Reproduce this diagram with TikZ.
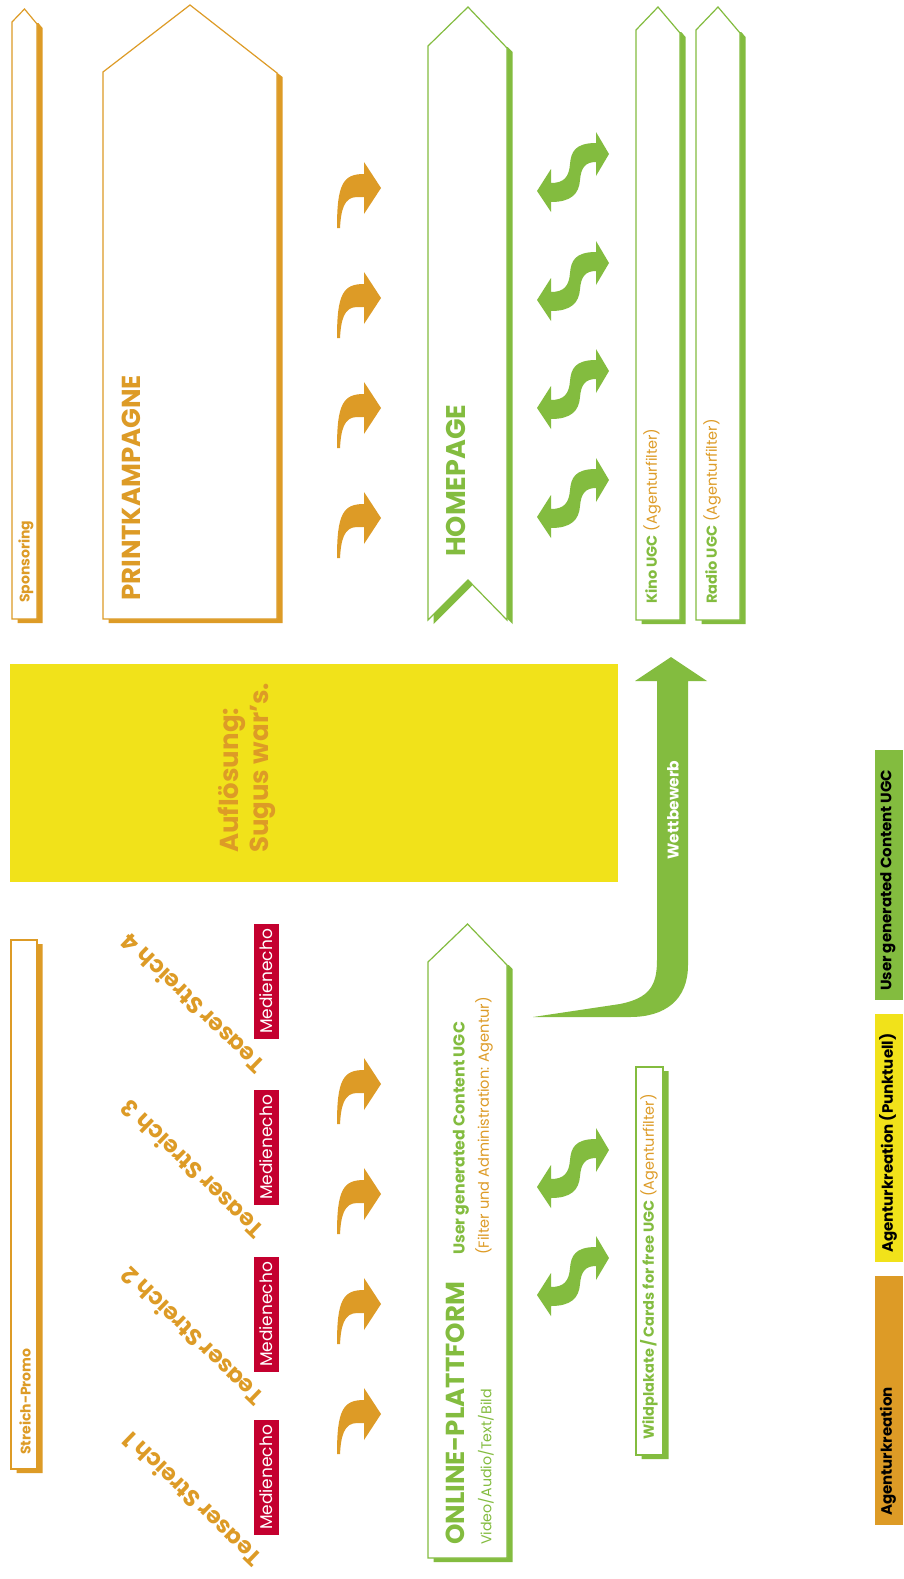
\documentclass[tikz,border=0pt]{standalone}
\usepackage{fontspec}
\setmainfont{Poppins}
\definecolor{org}{RGB}{221,155,38}
\definecolor{grn}{RGB}{131,188,63}
\definecolor{ylw}{RGB}{241,226,26}
\definecolor{mred}{RGB}{196,0,47}
\newcommand\myfs[2]{\fontsize{#1}{#2}\selectfont}
% pennant column: xl, xr, apex y, shoulder y left, shoulder y right, bottom y, colour
\newcommand\pennant[7]{%
  \begin{scope}
    \clip (#1,#5) rectangle (910,1579);
    \fill[#7] ({#1+5.5},{#6+4}) -- ({#1+5.5},{#4+4}) -- ({(#1+#2)/2+5.5},{#3+4}) -- ({#2+5.5},{#5+4}) -- ({#2+5.5},{#6+4}) -- cycle;
  \end{scope}
  \filldraw[fill=white, draw=#7, line width=1.2pt] (#1,#6) -- (#1,#4) -- ({(#1+#2)/2},#3) -- (#2,#5) -- (#2,#6) -- cycle;
}
\newcommand\oarr[2]{\fill[org, shift={(#1,#2)}] (0,0) -- (-17,-26) -- (-17,-14) .. controls (-38,-14) and (-44,-4) .. (-44,40) -- (-41,40) .. controls (-40,22) and (-37,9) .. (-24,9) -- (-17,9) -- (-17,26) -- cycle;}
\newcommand\sarr[2]{\fill[grn, shift={(#1,#2)}] (36,-18) -- (23,-40) -- (23,-29) .. controls (2,-29) and (-2,-20) .. (-3,-8) .. controls (-4,5) and (-9,11) .. (-22,11) -- (-22,-3) -- (-36,19) -- (-22,40) -- (-22,30) .. controls (-2,30) and (6,22) .. (7,8) .. controls (8,-4) and (12,-10) .. (23,-10) -- (23,4) -- cycle;}
\begin{document}
\begin{tikzpicture}[x=1pt,y=-1pt,
  lbl/.style={inner sep=0pt, rotate=90, anchor=west},
  medbox/.style={rotate=90, text=white, fill=mred, minimum width=115pt, minimum height=25pt, inner sep=0pt, font={\myfs{17}{20}}},
  teaser/.style={rotate=136, text=org, inner sep=0pt, font={\bfseries\myfs{23}{26}}},
  bigtxt/.style={lbl, font={\bfseries\myfs{26}{30}}},
  smalltxt/.style={lbl, font={\myfs{14.5}{17}}},
  legtxt/.style={lbl, text=black, font={\bfseries\myfs{15}{17}}}]
\useasboundingbox (0,0) rectangle (903,1579);
\fill[white] (0,0) rectangle (903,1579);

% ---- upper columns
\pennant{12}{37}{9}{22}{24}{619}{org}
\pennant{103}{277}{5}{72}{73}{619}{org}
\pennant{636}{680}{7}{30}{33}{620}{grn}
\pennant{696}{740}{7}{30}{33}{620}{grn}
% homepage with notched bottom
\begin{scope}
  \clip (428,48) rectangle (910,700);
  \fill[grn] (433.5,624) -- (433.5,50) -- (473.5,11) -- (512.5,52) -- (512.5,624) -- (473.5,584) -- cycle;
\end{scope}
\filldraw[fill=white, draw=grn, line width=1.2pt] (428,620) -- (428,46) -- (468,7) -- (507,48) -- (507,620) -- (468,580) -- cycle;

% ---- lower columns
\pennant{428}{507}{924}{962}{965}{1558}{grn}
\pennant{11}{37}{940}{940}{940}{1469}{org}
\pennant{636}{663}{1067}{1067}{1067}{1455}{grn}

% ---- yellow block
\fill[ylw] (10,664) rectangle (618,882);
\node[bigtxt, text=org, align=left] (aufl) at (247,853) {Auflösung:\\Sugus war's.};

% ---- Wettbewerb arrow
\fill[grn] (533,1017) -- (620,1004) .. controls (650,998) and (657,985) .. (657,960) -- (657,681) -- (635,681) -- (671,657) -- (707,681) -- (688,681) -- (688,965) .. controls (688,1000) and (665,1017) .. (630,1017) -- cycle;
\node[rotate=90, text=white, inner sep=0pt, font={\bfseries\myfs{15.5}{18}}] (wett) at (673,810) {Wettbewerb};

% ---- orange curved arrows
\oarr{381}{188}\oarr{381}{298}\oarr{381}{408}\oarr{381}{518}
\oarr{381}{1084}\oarr{381}{1194}\oarr{381}{1304}\oarr{381}{1414}

% ---- green double arrows
\sarr{573}{172}\sarr{573}{281}\sarr{573}{389}\sarr{573}{498}
\sarr{573}{1168}\sarr{573}{1276}

% ---- column labels
\node[lbl, text=org, font={\bfseries\myfs{14}{16}}] (spons) at (26,603) {Sponsoring};
\node[bigtxt, text=org] (print) at (131,601) {PRINTKAMPAGNE};
\node[bigtxt, text=grn, font={\bfseries\myfs{27}{30}}] (home) at (456,557) {HOMEPAGE};
\node[smalltxt] (kino) at (652,604) {{\bfseries\color{grn}Kino UGC} {\color{org}(Agenturfilter)}};
\node[smalltxt] (radio) at (712,604) {{\bfseries\color{grn}Radio UGC} {\color{org}(Agenturfilter)}};

\node[bigtxt, text=grn] (online) at (455,1545) {ONLINE-PLATTFORM};
\node[lbl, text=grn, font={\myfs{14.2}{16}}] (video) at (486,1545) {Video/Audio/Text/Bild};
\node[lbl, text=grn, font={\bfseries\myfs{15.8}{18}}] (ugc) at (461,1255) {User generated Content UGC};
\node[lbl, text=org, font={\myfs{14.6}{17}}] (filt) at (484,1255) {(Filter und Administration: Agentur)};
\node[smalltxt] (wild) at (649,1440) {{\bfseries\color{grn}Wildplakate\,/\,Cards for free UGC} {\color{org}(Agenturfilter)}};
\node[lbl, text=org, font={\bfseries\myfs{14}{16}}] (promo) at (25,1455) {Streich-Promo};

% ---- Medienecho and teasers
\node[medbox] (m1) at (266.5,1477.5) {Medienecho};
\node[medbox] (m2) at (266.5,1314.5) {Medienecho};
\node[medbox] (m3) at (266.5,1147.5) {Medienecho};
\node[medbox] (m4) at (266.5,981.5) {Medienecho};
\node[teaser] (t1) at (192,1500) {Teaser Streich 1};
\node[teaser] (t2) at (192,1337) {Teaser Streich 2};
\node[teaser] (t3) at (192,1170) {Teaser Streich 3};
\node[teaser] (t4) at (192,1004) {Teaser Streich 4};

% ---- legend
\fill[grn] (875,750) rectangle (903,1000);
\fill[ylw] (875,1014) rectangle (903,1262);
\fill[org] (875,1276) rectangle (903,1525);
\node[legtxt] (lg1) at (888,991) {User generated Content UGC};
\node[legtxt] (lg2) at (888,1253) {Agenturkreation (Punktuell)};
\node[legtxt] (lg3) at (888,1516) {Agenturkreation};
\end{tikzpicture}
\end{document}
